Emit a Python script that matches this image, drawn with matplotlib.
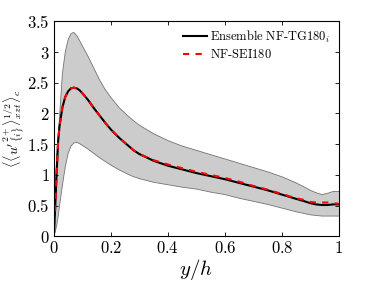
import numpy as np
import matplotlib
matplotlib.use('Agg')
import matplotlib.pyplot as plt

plt.rcParams['mathtext.fontset'] = 'cm'
plt.rcParams['font.family'] = 'serif'
plt.rcParams['font.serif'] = ['DejaVu Serif']

# wall-normal positions y/h
yh = [0, 0.005, 0.01, 0.015, 0.02, 0.03, 0.04, 0.05, 0.06, 0.07, 0.08, 0.09, 0.1,
      0.12, 0.14, 0.16, 0.18, 0.2, 0.23, 0.26, 0.28, 0.3, 0.35, 0.4, 0.45, 0.5,
      0.55, 0.6, 0.65, 0.7, 0.75, 0.8, 0.85, 0.88, 0.9, 0.92, 0.94, 0.96, 0.98, 1.0]

# ensemble mean
ens_mean = [0, 0.5, 1.05, 1.55, 1.8, 2.1, 2.27, 2.36, 2.41, 2.42, 2.41, 2.38, 2.33,
            2.22, 2.09, 1.97, 1.85, 1.74, 1.60, 1.48, 1.40, 1.34, 1.23, 1.15, 1.09, 1.03,
            0.98, 0.93, 0.87, 0.81, 0.75, 0.68, 0.61, 0.57, 0.54, 0.52, 0.51, 0.51, 0.52, 0.52]

# reference NF-SEI180
sei = [0, 0.5, 1.05, 1.55, 1.8, 2.1, 2.27, 2.36, 2.41, 2.42, 2.41, 2.38, 2.33,
       2.22, 2.09, 1.97, 1.85, 1.74, 1.60, 1.48, 1.40, 1.34, 1.24, 1.17, 1.11, 1.05,
       1.00, 0.95, 0.89, 0.82, 0.76, 0.69, 0.62, 0.59, 0.56, 0.55, 0.55, 0.55, 0.54, 0.53]

# ensemble spread (upper / lower)
upper = [0, 0.8, 1.3, 1.6, 1.95, 2.65, 3.0, 3.2, 3.3, 3.32, 3.27, 3.19, 3.10,
         2.93, 2.74, 2.55, 2.39, 2.26, 2.09, 1.96, 1.88, 1.81, 1.67, 1.56, 1.47, 1.40,
         1.33, 1.26, 1.19, 1.12, 1.05, 0.97, 0.87, 0.80, 0.75, 0.71, 0.68, 0.70, 0.73, 0.73]
lower = [0, 0.08, 0.18, 0.32, 0.5, 0.83, 1.13, 1.35, 1.47, 1.52, 1.53, 1.51, 1.48,
         1.42, 1.35, 1.28, 1.22, 1.16, 1.08, 1.01, 0.97, 0.94, 0.88, 0.84, 0.80, 0.77,
         0.72, 0.68, 0.62, 0.57, 0.52, 0.46, 0.40, 0.37, 0.35, 0.34, 0.33, 0.33, 0.33, 0.33]

xticks = [0, 0.2, 0.4, 0.6, 0.8, 1]
xticklabels = ['$0$', '$0.2$', '$0.4$', '$0.6$', '$0.8$', '$1$']
yticks = [0, 0.5, 1, 1.5, 2, 2.5, 3, 3.5]
yticklabels = ['$0$', '$0.5$', '$1$', '$1.5$', '$2$', '$2.5$', '$3$', '$3.5$']

fig = plt.figure(figsize=(3.74, 2.81), dpi=100)
ax = fig.add_axes([0.144, 0.159, 0.762, 0.765])

ax.fill_between(yh, lower, upper, facecolor=(0.8, 0.8, 0.8), edgecolor='none')
ax.plot(yh, upper, color=(0.45, 0.45, 0.45), lw=0.6)
ax.plot(yh, lower, color=(0.45, 0.45, 0.45), lw=0.6)
ax.plot(yh, ens_mean, color='black', lw=1.5,
        label=r'$\mathrm{Ensemble\ NF\text{-}TG180}_i$')
ax.plot(yh, sei, color='red', lw=1.5, ls=(0, (3, 3)), label=r'$\mathrm{NF\text{-}SEI180}$')

ax.set_xlim(0, 1)
ax.set_ylim(0, 3.5)
ax.set_xticks(xticks)
ax.set_xticklabels(xticklabels, fontsize=12)
ax.set_yticks(yticks)
ax.set_yticklabels(yticklabels, fontsize=12)
ax.tick_params(direction='in', top=True, right=True, length=3, width=0.6, pad=3)
for s in ax.spines.values():
    s.set_linewidth(0.8)

ax.set_xlabel('$y/h$', fontsize=15, labelpad=0)
ax.set_ylabel(r"$\langle\langle u'^{2+}_{\{i\}}\rangle^{1/2}_{xzt}\rangle_c$", fontsize=10)
ax.yaxis.set_label_coords(-0.093, 0.5)

ax.legend(loc='upper right', frameon=False, fontsize=9, handlelength=1.9,
          borderaxespad=0.2, labelspacing=0.25, handletextpad=0.2,
          bbox_to_anchor=(0.995, 1.0))

fig.savefig('out.png', dpi=100)
